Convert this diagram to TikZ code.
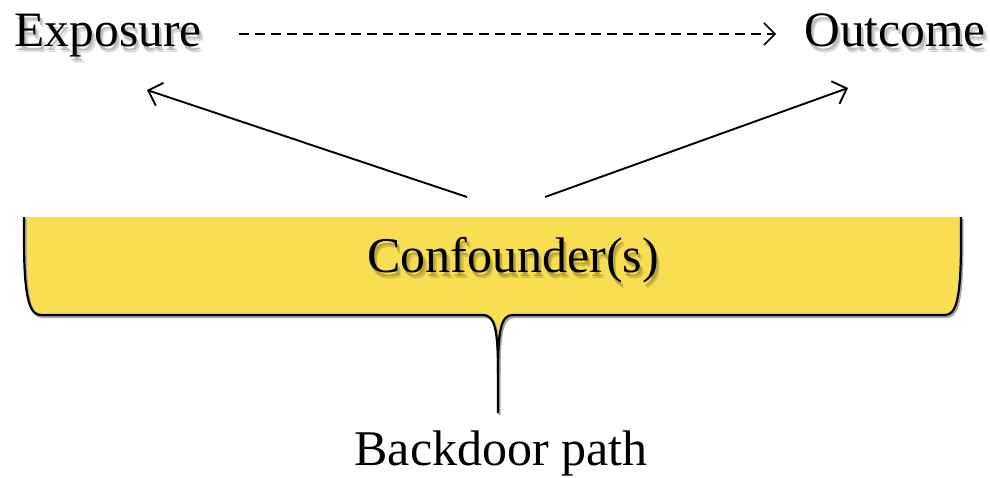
\documentclass[tikz,border=0pt]{standalone}
\usepackage{fontspec}
\setmainfont{Liberation Serif}
\usetikzlibrary{arrows.meta}
\definecolor{braceyellow}{RGB}{249,222,82}
\tikzset{
  label/.style={inner sep=0pt, anchor=base, font=\fontsize{49.5}{58}\selectfont},
  biglabel/.style={label, font=\fontsize{50}{60}\selectfont},
  arr/.style={line width=1.9pt, -{Straight Barb[length=12pt,width=24pt,line width=1.9pt]}},
  dasharr/.style={line width=1.6pt, dash pattern=on 10pt off 6pt,
    -{Straight Barb[length=11pt,width=22pt,line width=1.6pt]}},
  braceline/.style={line width=2.2pt, line join=round}
}
% text with a soft drop shadow; #1 = background colour the shadow darkens
\newcommand{\softshadow}[2]{%
  \leavevmode
  \rlap{\kern3.5pt\raisebox{-6.5pt}{\textcolor{#1!86!black}{#2}}}%
  \rlap{\kern2pt\raisebox{-4.5pt}{\textcolor{#1!74!black}{#2}}}%
  #2}
\begin{document}
\begin{tikzpicture}[x=1pt,y=-1pt]
\useasboundingbox (0,0) rectangle (990,477);

% brace holding the confounders
\path[fill=braceyellow]
  (24,217) -- (24,240) .. controls (24,300) and (30,315) .. (41,315)
  -- (483,315) .. controls (495,315) and (498,330) .. (498,373)
  .. controls (498,330) and (501,315) .. (513,315)
  -- (945,315) .. controls (956,315) and (961,300) .. (961,240) -- (961,217) -- cycle;
\begin{scope}[xshift=1.5pt, yshift=-2pt, braceline, black!35]
  \draw (24,217) -- (24,240) .. controls (24,300) and (30,315) .. (41,315)
    -- (483,315) .. controls (495,315) and (498,330) .. (498,373) -- (498,413);
  \draw (498,373) .. controls (498,330) and (501,315) .. (513,315)
    -- (945,315) .. controls (956,315) and (961,300) .. (961,240) -- (961,217);
\end{scope}
\draw[braceline]
  (24,217) -- (24,240) .. controls (24,300) and (30,315) .. (41,315)
  -- (483,315) .. controls (495,315) and (498,330) .. (498,373) -- (498,413);
\draw[braceline]
  (498,373) .. controls (498,330) and (501,315) .. (513,315)
  -- (945,315) .. controls (956,315) and (961,300) .. (961,240) -- (961,217);

% labels
\node[label] (expo) at (108,46) {\softshadow{white}{Exposure}};
\node[label] (outc) at (895,46) {\softshadow{white}{Outcome}};
\node[biglabel] (conf) at (513,272) {\softshadow{braceyellow}{Confounder(s)}};
\node[biglabel] (back) at (501,465) {Backdoor path};

% arrows
\coordinate (ls) at (467,197);
\coordinate (le) at (147,90);
\coordinate (rs) at (545,197);
\coordinate (re) at (848,88);
\draw[dasharr] ([shift={(37,-12)}]expo.base east) -- ([shift={(-28,-12)}]outc.base west);
\draw[arr] (ls) -- (le);
\draw[arr] (rs) -- (re);
\end{tikzpicture}
\end{document}
